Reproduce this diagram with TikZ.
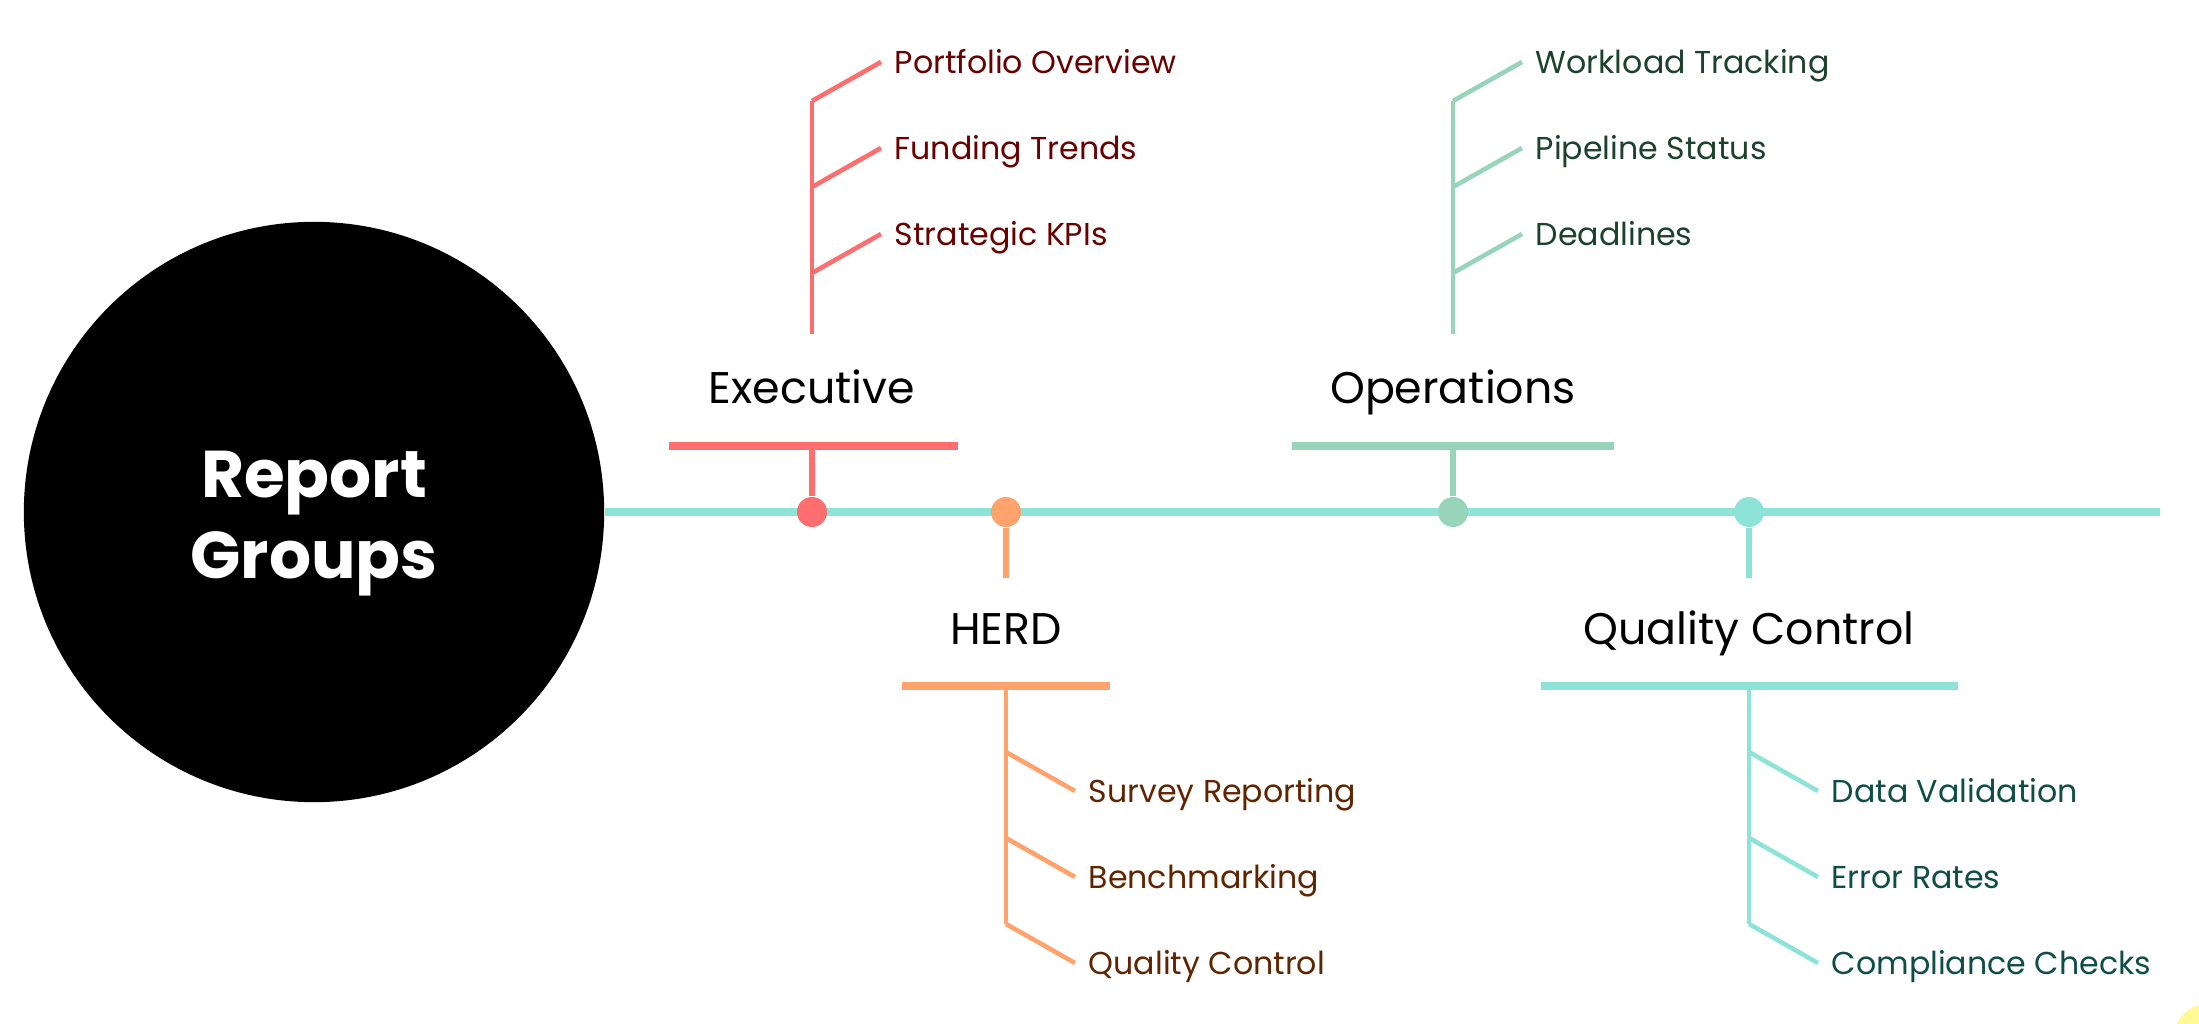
\documentclass[tikz,border=0pt]{standalone}
\usepackage{fontspec}
\setmainfont{Poppins}
\usetikzlibrary{positioning,calc}
\definecolor{ExecRed}{RGB}{255,110,110}
\definecolor{ExecInk}{RGB}{105,0,0}
\definecolor{HerdOrange}{RGB}{255,162,108}
\definecolor{HerdInk}{RGB}{96,36,0}
\definecolor{OpsMint}{RGB}{152,212,186}
\definecolor{OpsInk}{RGB}{28,66,44}
\definecolor{QcTeal}{RGB}{142,227,216}
\definecolor{QcInk}{RGB}{14,78,70}
\definecolor{SunYellow}{RGB}{255,250,150}
\tikzset{
  root/.style={circle,fill=black,minimum size=5.8cm,inner sep=0pt},
  rootlabel/.style={text=white,align=center,font=\bfseries\fontsize{18.8}{23}\selectfont},
  dot/.style={circle,minimum size=0.3cm,inner sep=0pt},
  head/.style={anchor=base,font=\fontsize{12.6}{15}\selectfont},
  leaf/.style={anchor=west,inner xsep=0.13cm,inner ysep=0pt,text height=6.4pt,
    text depth=0pt,font=\fontsize{9}{11}\selectfont},
  spine/.style={line width=2pt,QcTeal},
  bar/.style={line width=2pt},
  stalk/.style={line width=1.7pt},
  twig/.style={line width=1.3pt}
}
% #1 prefix, #2 stem x, #3 first fork y, #4 twig rise, #5 line colour, #6 ink, #7 items
\newcommand{\leafgroup}[7]{%
  \foreach \txt [count=\i] in {#7} {
    \coordinate (#1fork\i) at (#2,{#3+86*(\i-1)});
    \node[leaf,text=#6] (#1leaf\i) at ($(#1fork\i)+(69,#4)$) {\txt};
    \draw[twig,#5] (#1fork\i) -- (#1leaf\i.west);
  }}

\begin{document}
\begin{tikzpicture}[x=0.01cm,y=-0.01cm]
  \useasboundingbox (0,0) rectangle (2199,1024);
  \begin{scope}
    \clip (0,0) rectangle (2199,1024);
    \fill[SunYellow] (2210,1040) circle (37);
  \end{scope}

  % centre and spine
  \node[root] (root) at (314,512) {};
  \node[rootlabel] (rootText) at (314,524) {Report\\Groups};
  \coordinate (spineEnd) at (2160,512);
  \draw[spine] (root.east) -- (spineEnd);

  % Executive
  \node[dot,fill=ExecRed] (execDot) at (812,512) {};
  \node[head] (exec) at (812,403) {Executive};
  \coordinate (execBarL) at (669,446);
  \coordinate (execBarR) at (958,446);
  \draw[bar,ExecRed] (execBarL) -- (execBarR);
  \draw[stalk,ExecRed] (execDot) -- (execDot |- execBarL);
  \coordinate (execFoot) at (812,334);
  \draw[twig,ExecRed] (execFoot) -- (812,101);
  \leafgroup{exec}{812}{101}{-39}{ExecRed}{ExecInk}{Portfolio Overview,Funding Trends,Strategic KPIs}

  % HERD
  \node[dot,fill=HerdOrange] (herdDot) at (1006,512) {};
  \coordinate (herdTip) at (1006,578);
  \draw[stalk,HerdOrange] (herdDot) -- (herdTip);
  \node[head] (herd) at (1006,644) {HERD};
  \coordinate (herdBarL) at (902,686);
  \coordinate (herdBarR) at (1110,686);
  \draw[bar,HerdOrange] (herdBarL) -- (herdBarR);
  \draw[twig,HerdOrange] (1006,686) -- (1006,924);
  \leafgroup{herd}{1006}{752}{39}{HerdOrange}{HerdInk}{Survey Reporting,Benchmarking,Quality Control}

  % Operations
  \node[dot,fill=OpsMint] (opsDot) at (1453,512) {};
  \node[head] (ops) at (1453,403) {Operations};
  \coordinate (opsBarL) at (1292,446);
  \coordinate (opsBarR) at (1614,446);
  \draw[bar,OpsMint] (opsBarL) -- (opsBarR);
  \draw[stalk,OpsMint] (opsDot) -- (opsDot |- opsBarL);
  \coordinate (opsFoot) at (1453,334);
  \draw[twig,OpsMint] (opsFoot) -- (1453,101);
  \leafgroup{ops}{1453}{101}{-39}{OpsMint}{OpsInk}{Workload Tracking,Pipeline Status,Deadlines}

  % Quality Control
  \node[dot,fill=QcTeal] (qcDot) at (1749,512) {};
  \coordinate (qcTip) at (1749,578);
  \draw[stalk,QcTeal] (qcDot) -- (qcTip);
  \node[head] (qc) at (1749,644) {Quality Control};
  \coordinate (qcBarL) at (1541,686);
  \coordinate (qcBarR) at (1958,686);
  \draw[bar,QcTeal] (qcBarL) -- (qcBarR);
  \draw[twig,QcTeal] (1749,686) -- (1749,924);
  \leafgroup{qc}{1749}{752}{39}{QcTeal}{QcInk}{Data Validation,Error Rates,Compliance Checks}
\end{tikzpicture}
\end{document}
